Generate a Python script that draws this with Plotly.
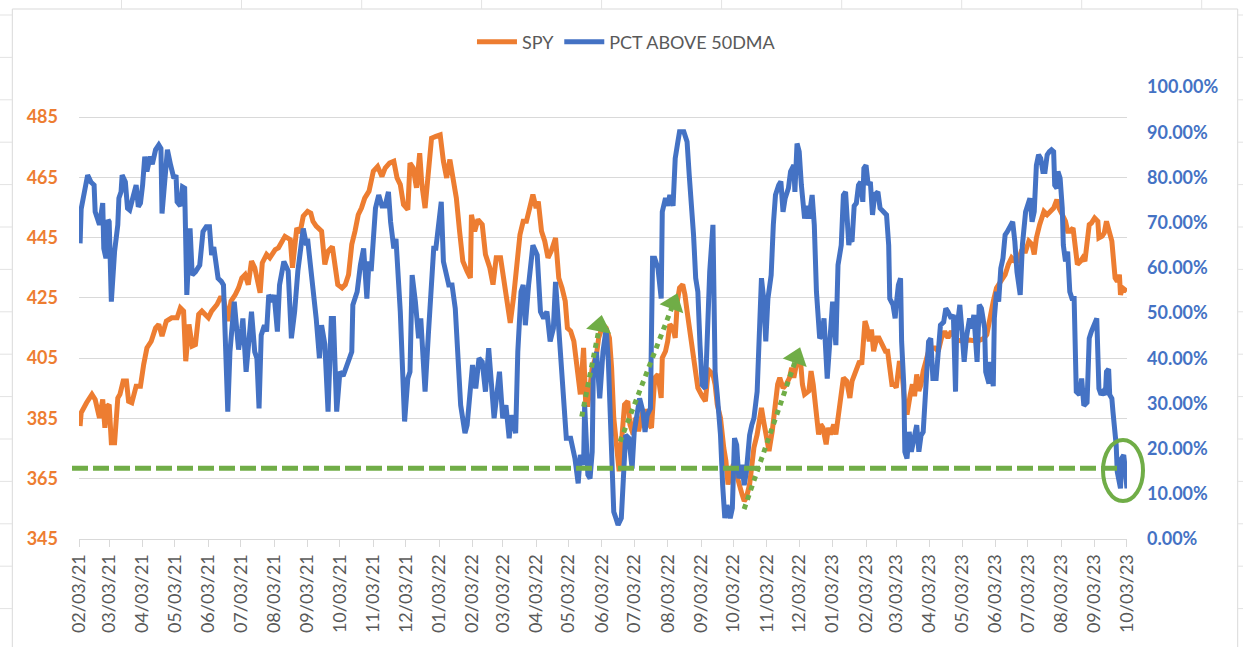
import math
import pandas as pd
import plotly.graph_objects as go

# ---------------- data ----------------
START = "2021-02-03"          # day 0 of the offsets below
END = "2023-10-03"

# SPY: calendar-day offset from START, closing level
spy_day = [1,2,7,12,15,19,22,24,26,28,30,33,36,38,41,44,46,49,53,57,60,63,67,71,74,77,81,86,91,94,97,99,102,105,108,111,114,117,120,123,128,131,134,138,141,145,148,151,154,157,160,163,166,168,170,174,177,182,185,189,191,196,198,202,205,208,212,215,217,220,225,228,231,
           235,237,240,244,247,250,253,256,259,262,265,269,273,277,281,284,288,292,295,298,301,305,307,310,313,316,318,321,324,327,331,335,338,341,344,347,350,353,356,360,363,364,367,370,374,377,381,384,387,391,394,397,400,403,406,409,412,415,418,421,424,426,429,432,435,438,442,445,448,451,453,456,459,462,465,468,470,472,476,480,
           482,486,489,492,494,496,499,501,503,506,509,511,514,516,519,521,523,527,529,531,534,537,540,541,544,546,548,551,553,555,557,560,562,564,567,569,572,574,578,581,583,585,588,590,592,595,598,600,602,604,607,609,612,615,617,619,622,624,626,629,631,633,635,638,640,643,646,648,650,653,656,659,661,663,666,669,671,673,677,679,681,684,686,688,690,693,695,697,700,702,704,707,709,712,715,
           717,719,721,724,726,728,729,731,733,735,737,740,742,745,748,750,752,754,756,758,761,763,766,768,771,773,775,777,779,781,783,786,788,791,794,797,800,803,806,809,814,820,826,833,839,842,845,848,851,853,856,859,862,865,868,871,874,878,881,884,886,888,891,895,898,901,904,907,909,912,915,917,919,922,924,926,929,931,933,935,937,939,942,945,946,949,951,953,956,958,961,963,965,966,968,970,972]
spy_val = [382.5,386.9,390.2,393.0,391.3,385.2,391.3,381.9,389.0,389.6,376.9,376.9,391.8,393.0,397.4,397.4,390.7,390.2,395.7,395.7,402.9,408.4,410.6,415.0,416.2,412.3,417.3,418.4,418.4,421.7,420.6,404.0,416.2,409.0,409.5,419.5,420.6,419.5,418.4,420.6,422.8,425.0,425.0,417.3,423.9,426.1,428.3,431.6,432.7,429.4,437.2,435.0,429.4,426.7,436.6,439.4,438.3,441.0,441.6,443.8,445.4,444.3,435.0,448.2,446.6,452.1,453.7,453.1,450.4,448.8,447.1,436.1,440.5,
           442.0,436.0,429.4,428.3,429.4,432.7,442.7,447.1,452.6,454.8,458.1,460.4,467.0,468.6,465.3,468.1,469.7,470.3,464.8,462.6,455.9,454.3,469.7,468.1,461.5,473.0,462.6,454.8,465.9,478.0,478.6,479.1,470.3,464.8,470.9,464.8,458.1,447.1,437.2,433.8,431.6,452.6,447.1,451.0,449.3,439.4,435.0,429.4,438.3,438.3,430.5,425.0,416.7,425.0,437.2,446.0,450.4,450.4,454.8,459.3,454.8,457.0,447.1,443.8,438.3,440.5,444.9,431.6,428.3,423.9,415.0,414.0,410.6,401.8,393.0,408.4,389.6,389.6,401.8,406.2,
           411.7,416.2,415.0,411.7,401.8,385.2,374.2,367.5,376.4,389.6,390.7,383.0,379.7,385.2,380.8,384.1,387.4,387.4,383.0,381.9,398.5,399.6,391.8,405.1,407.3,410.6,416.2,415.0,411.7,423.9,428.3,429.4,426.1,420.6,412.8,407.3,401.8,395.1,392.4,390.7,398.5,400.7,399.6,396.3,389.6,385.2,375.3,370.9,363.1,365.3,369.8,367.5,363.1,359.8,357.6,358.7,363.1,368.6,375.3,379.7,385.2,388.5,384.1,378.6,374.2,380.8,389.6,396.3,398.5,395.1,396.3,398.5,401.8,398.5,404.0,405.1,396.3,393.0,394.1,400.7,396.3,386.3,379.7,383.0,381.9,376.4,381.9,379.7,383.0,379.7,385.2,394.1,398.5,397.4,391.8,
           397.4,399.6,400.7,404.0,402.9,411.7,417.3,415.0,410.6,414.5,407.3,411.7,411.7,409.5,407.3,407.3,401.8,396.3,396.3,395.2,404.0,401.8,389.6,386.3,392.9,396.3,392.4,399.6,394.1,396.3,400.7,404.0,407.3,408.4,408.4,407.3,411.7,413.9,411.7,413.9,411.0,410.6,411.0,410.6,411.5,412.8,419.5,423.9,428.3,429.4,431.6,432.7,436.1,438.3,437.2,437.2,440.5,440.5,443.8,442.7,439.4,444.9,449.3,453.7,452.6,453.7,454.8,457.6,454.8,452.6,450.4,447.1,447.1,448.2,442.7,436.1,437.2,438.3,437.2,442.7,449.3,449.8,451.5,450.4,444.9,445.5,446.6,450.4,445.5,443.8,431.6,430.5,432.7,426.0,428.3,427.7,427.2]

# PCT ABOVE 50DMA: calendar-day offset from START, percent
pct_day = [1,2,8,11,14,15,17,19,22,23,25,27,28,30,33,36,37,39,40,43,45,47,50,53,55,57,59,61,63,66,68,71,74,76,77,79,82,85,88,90,91,94,96,98,100,103,105,108,112,115,118,121,123,125,129,132,134,138,140,144,148,151,152,155,160,163,165,167,169,172,174,176,179,181,184,186,190,194,197,200,203,208,211,212,214,217,220,223,225,228,231,
           234,236,239,242,245,250,253,254,258,261,264,267,269,271,273,275,278,281,284,287,289,292,294,296,298,302,305,307,309,312,315,317,319,321,324,326,329,331,336,338,343,346,349,354,356,358,360,365,368,371,374,377,380,383,385,390,393,396,399,401,405,407,410,412,414,417,421,425,428,431,434,437,440,442,445,448,450,452,456,460,463,465,468,469,472,
           474,476,477,480,482,483,486,488,489,491,493,496,498,500,503,505,507,510,513,515,517,520,523,525,527,530,532,534,537,540,541,544,546,548,551,553,555,557,561,564,566,568,570,572,574,576,578,581,583,585,588,590,592,595,597,599,601,604,606,608,610,612,615,617,619,622,624,626,629,631,633,635,637,639,642,644,646,649,651,653,655,658,660,663,664,666,668,670,673,675,677,680,682,684,687,689,691,694,696,699,702,704,707,709,711,714,
           715,717,719,721,723,725,727,728,730,732,734,736,738,741,743,746,749,751,752,755,757,758,760,762,763,765,766,768,770,772,775,777,779,781,783,786,788,790,792,795,797,799,802,804,806,809,811,813,814,817,819,821,823,826,828,830,833,835,837,840,841,844,845,848,849,851,853,855,857,859,861,864,866,868,870,873,875,878,880,882,884,886,888,890,892,894,896,898,900,902,904,905,907,908,910,912,913,915,917,919,921,923,925,928,930,932,935,937,939,942,944,946,948,950,952,953,955,956,958,959,962,963,966,967,969,970,972]
pct_val = [65.4,73.0,80.5,79.0,78.3,72.4,71.0,69.5,74.3,64.3,62.1,70.6,70.2,52.5,63.6,69.5,75.4,76.8,80.5,79.0,73.2,72.8,76.1,78.3,73.5,74.3,78.3,84.6,81.3,84.6,82.9,86.1,87.2,86.4,72.0,76.8,86.1,82.7,79.8,80.5,74.6,73.7,77.9,77.6,54.0,68.7,58.4,59.1,60.6,68.0,69.1,69.1,62.8,64.6,57.7,57.0,56.2,28.2,41.4,52.5,41.9,46.6,48.8,37.0,50.3,41.4,40.0,28.9,45.1,47.3,45.9,54.0,52.5,54.0,45.9,56.2,61.4,59.3,44.4,50.3,59.3,68.7,65.0,66.4,62.1,54.7,48.8,40.0,47.3,43.1,28.2,
           48.8,48.8,28.2,37.0,36.1,39.2,41.4,51.8,54.7,60.6,64.3,53.2,61.4,59.3,68.7,73.2,76.1,73.7,73.7,76.8,70.2,64.3,66.4,59.1,50.3,26.0,35.5,37.0,58.4,52.5,44.4,48.8,42.2,32.6,45.1,53.2,64.3,64.3,74.6,61.4,56.2,56.2,51.0,29.6,26.7,23.4,25.2,38.5,33.3,40.0,39.2,32.6,42.2,31.9,26.7,37.0,26.7,29.6,22.3,27.4,23.4,41.4,54.7,56.2,47.3,56.2,65.0,62.8,50.3,48.8,50.3,43.7,46.6,56.9,47.3,35.5,29.6,22.3,22.3,17.8,12.3,18.6,16.4,29.6,14.2,
           13.4,19.3,36.3,41.4,34.8,31.1,41.4,45.9,46.6,39.2,23.0,6.0,4.6,3.1,4.6,15.6,23.0,22.3,15.6,23.7,26.7,31.1,28.2,23.7,27.4,28.9,62.1,62.1,59.9,53.2,72.4,75.4,73.7,76.1,73.7,84.2,87.2,90.1,90.1,87.9,80.5,74.6,67.3,57.7,54.7,42.9,34.1,33.3,45.9,59.1,69.5,37.0,31.9,23.0,11.9,4.6,7.5,4.6,6.8,22.3,20.8,13.4,16.4,11.9,14.9,23.0,25.2,26.7,32.6,42.9,57.7,53.2,43.7,53.2,58.4,69.5,76.1,78.3,79.1,72.4,75.4,77.6,81.3,82.7,76.8,87.5,85.7,78.3,70.9,73.7,70.9,76.1,69.5,54.7,44.4,45.1,48.8,35.5,43.7,52.5,42.9,60.6,65.0,76.1,76.8,65.0,
           66.4,65.8,73.7,74.3,78.3,79.0,74.6,82.0,82.7,78.3,79.0,71.7,76.1,76.8,73.2,72.4,71.7,65.0,53.2,51.8,48.8,51.8,56.2,57.7,43.7,34.1,19.3,17.8,23.7,19.3,22.9,25.2,19.3,22.9,23.7,35.5,43.7,44.4,35.5,35.5,42.9,47.3,48.0,51.0,50.3,48.8,49.6,32.6,45.9,51.8,45.9,39.2,44.4,48.8,46.6,49.6,39.2,51.8,51.0,46.6,37.0,34.4,39.2,33.8,48.8,54.7,52.5,59.9,62.1,67.3,68.0,69.5,70.2,65.8,59.1,54.0,65.0,72.4,73.7,75.4,70.2,72.4,82.7,85.0,84.2,81.3,81.3,85.0,85.7,86.1,85.7,78.3,77.6,81.3,79.8,73.2,65.0,61.4,63.6,54.7,53.2,53.2,32.6,31.9,35.5,29.5,30.2,44.4,45.9,48.0,48.8,33.3,31.9,32.6,31.9,37.0,37.6,31.9,31.1,28.2,20.8,14.9,11.2,17.8,18.6,16.4,11.2]

# dotted green arrows: start and head centre, in (day offset, SPY)
arrow_start_day = [466.3, 501.9, 616.9]
arrow_start_spy = [385.6, 377.3, 354.9]
arrow_head_day = [482.9, 551.3, 665.5]
arrow_head_spy = [415.7, 423.1, 405.2]
arrow_dir = [(0.192, -0.982), (0.360, -0.933), (0.327, -0.945)]  # screen direction (right, down)

spy_ticks = [345, 365, 385, 405, 425, 445, 465, 485]

# ---------------- styling ----------------
ORANGE = "#ED7D31"
BLUE = "#4472C4"
GREEN = "#70AD47"
GRAY_TXT = "#595959"
GRID = "#D9D9D9"
FONT = "Lato"

W, H = 1243, 647
L, R, T, B = 79, 116, 87, 108
PW, PH = W - L - R, H - T - B
SPY_LO = 345
SPY_HI = 345 + PH / 3.014


def pxx(x):
    return (x - L) / PW


def pxy(y):
    return (H - B - y) / PH


base = pd.Timestamp(START)


def to_dates(days):
    return [base + pd.Timedelta(days=float(d)) for d in days]


fig = go.Figure()
fig.add_trace(go.Scatter(x=to_dates(spy_day), y=spy_val, name="SPY", mode="lines",
                         line=dict(color=ORANGE, width=5), yaxis="y"))
fig.add_trace(go.Scatter(x=to_dates(pct_day), y=[v / 100 for v in pct_val], name="PCT ABOVE 50DMA",
                         mode="lines", line=dict(color=BLUE, width=5), yaxis="y2"))

# arrow heads: triangles on the overlay axis (SPY value mapped onto the 0..1 scale)
head_frac = [(v - SPY_LO) / (SPY_HI - SPY_LO) for v in arrow_head_spy]
head_angle = [math.degrees(math.atan2(ux, -uy)) for ux, uy in arrow_dir]
fig.add_trace(go.Scatter(x=to_dates(arrow_head_day), y=head_frac, mode="markers", yaxis="y2",
                         showlegend=False, hoverinfo="skip",
                         marker=dict(symbol="triangle-up", size=22, angle=head_angle,
                                     color=GREEN, line=dict(width=0))))

shapes = []
# chart border
shapes.append(dict(type="rect", xref="paper", yref="paper", x0=pxx(12.3), x1=pxx(1237.7),
                   y0=pxy(700), y1=pxy(9), line=dict(color=GRID, width=1), layer="below"))
# spreadsheet cell lines peeking around the chart
for cx in [121.5, 241.5, 361.7, 481.6, 601.6, 721.6, 841.7, 961.7, 1081.7, 1201.7]:
    shapes.append(dict(type="line", xref="paper", yref="paper", x0=pxx(cx), x1=pxx(cx),
                       y0=pxy(0), y1=pxy(9), line=dict(color="#E3E3E3", width=1), layer="below"))
for k in range(15):
    ry = 15 + 42.4 * k
    shapes.append(dict(type="line", xref="paper", yref="paper", x0=pxx(0), x1=pxx(12),
                       y0=pxy(ry), y1=pxy(ry), line=dict(color="#E3E3E3", width=1), layer="below"))
    shapes.append(dict(type="line", xref="paper", yref="paper", x0=pxx(1238), x1=pxx(1243),
                       y0=pxy(ry), y1=pxy(ry), line=dict(color="#E3E3E3", width=1), layer="below"))

# dashed support line
shapes.append(dict(type="line", xref="paper", yref="paper", x0=pxx(72), x1=pxx(1117),
                   y0=pxy(468.3), y1=pxy(468.3), line=dict(color=GREEN, width=5, dash="16px,5px")))
# ellipse at the end
shapes.append(dict(type="circle", xref="paper", yref="paper", x0=pxx(1103), x1=pxx(1143),
                   y0=pxy(501), y1=pxy(440), line=dict(color=GREEN, width=4)))

# dotted arrow shafts
for sd, ss, hd, hs in zip(arrow_start_day, arrow_start_spy, arrow_head_day, arrow_head_spy):
    shapes.append(dict(type="line", xref="x", yref="y",
                       x0=base + pd.Timedelta(days=sd), y0=ss,
                       x1=base + pd.Timedelta(days=hd), y1=hs,
                       line=dict(color=GREEN, width=5, dash="dot")))

fig.update_layout(
    width=W, height=H,
    margin=dict(l=L, r=R, t=T, b=B, pad=0),
    paper_bgcolor="white", plot_bgcolor="white",
    font=dict(family=FONT, size=18, color=GRAY_TXT),
    showlegend=True,
    legend=dict(orientation="h", xref="container", yref="container", x=0.504, xanchor="center",
                y=1 - 42 / H, yanchor="middle", font=dict(family=FONT, size=18, color=GRAY_TXT),
                bgcolor="rgba(0,0,0,0)", itemwidth=40),
    xaxis=dict(type="date", range=[pd.Timestamp(START), pd.Timestamp(END) + pd.Timedelta(hours=1)],
               tickmode="linear", tick0=START, dtick="M1", tickformat="%m/%d/%y", tickangle=-90,
               showgrid=False, zeroline=False, showline=True, linecolor=GRID, linewidth=1,
               ticks="outside", ticklen=7, tickcolor=GRID,
               tickfont=dict(family=FONT, size=18, color=GRAY_TXT)),
    yaxis=dict(range=[SPY_LO, SPY_HI], tickmode="array", tickvals=spy_ticks,
               showgrid=True, gridcolor=GRID, gridwidth=1, zeroline=False, showline=False,
               ticks="", ticklabelstandoff=20,
               tickfont=dict(family=FONT, size=18, color=ORANGE, weight="bold")),
    yaxis2=dict(overlaying="y", side="right", range=[0, 1], tickmode="linear", tick0=0, dtick=0.1,
                tickformat=".2%", showgrid=False, zeroline=False, showline=False, ticks="",
                ticklabelstandoff=19,
                tickfont=dict(family=FONT, size=18, color=BLUE, weight="bold")),
    shapes=shapes,
)

fig.write_html("out.html", config={"displayModeBar": False},
               post_script="document.body.style.margin='0';document.body.style.overflow='hidden';")
